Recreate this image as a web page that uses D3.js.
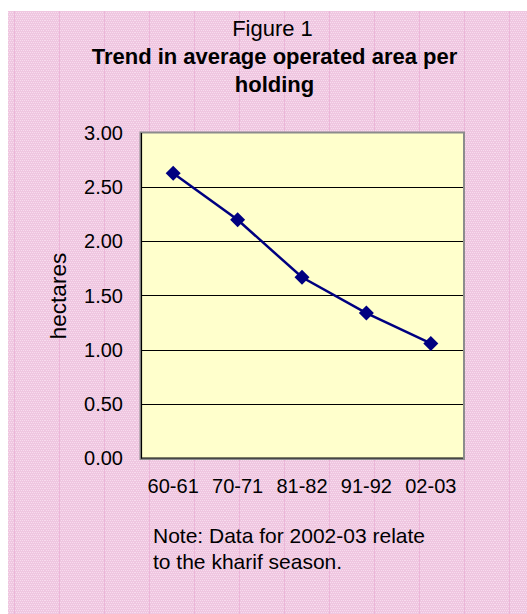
<!DOCTYPE html>
<html>
<head>
<meta charset="utf-8">
<script src="https://cdn.jsdelivr.net/npm/d3@7"></script>
<style>
  html, body { margin: 0; padding: 0; background: #ffffff; }
  svg { display: block; }
  text { font-family: "Liberation Sans", Arial, sans-serif; fill: #000; }
</style>
</head>
<body>
<script>
// ---- data ----
const categories = ["60-61", "70-71", "81-82", "91-92", "02-03"];
const values = [2.63, 2.20, 1.67, 1.34, 1.06];
const yTicks = [0, 0.5, 1.0, 1.5, 2.0, 2.5, 3.0];
const figureLabel = "Figure 1";
const titleLines = ["Trend in average operated area per", "holding"];
const yAxisTitle = "hectares";
const noteLines = ["Note: Data for 2002-03 relate", "to the kharif season."];

const W = 527, H = 614;
const svg = d3.select("body").append("svg").attr("width", W).attr("height", H);

// background pattern (pink textured)
const defs = svg.append("defs");
const pat = defs.append("pattern").attr("id", "pinkTex")
  .attr("patternUnits", "userSpaceOnUse").attr("width", 45).attr("height", 4);
pat.append("rect").attr("width", 45).attr("height", 4).attr("fill", "#efc6e0");
for (let x = 0; x < 45; x += 2) {
  pat.append("rect").attr("x", x).attr("y", 0).attr("width", 1).attr("height", 1).attr("fill", "#f7ddee");
  pat.append("rect").attr("x", x + 1).attr("y", 2).attr("width", 1).attr("height", 1).attr("fill", "#f7ddee");
}
pat.append("rect").attr("x", 14).attr("y", 0).attr("width", 1).attr("height", 4).attr("fill", "#ebb6d8");

svg.append("rect").attr("x", 8).attr("y", 11).attr("width", W - 8).attr("height", H - 11)
  .attr("fill", "url(#pinkTex)");

// plot area
const m = { left: 141, top: 133, right: 463, bottom: 458.5 };
const x = d3.scaleBand().domain(categories).range([m.left, m.right]).paddingInner(0).paddingOuter(0);
const y = d3.scaleLinear().domain([0, 3]).range([m.bottom, m.top]);

svg.append("rect").attr("x", m.left).attr("y", m.top)
  .attr("width", m.right - m.left).attr("height", m.bottom - m.top)
  .attr("fill", "#ffffcc");

// gridlines
svg.append("g").selectAll("line").data(yTicks.filter(t => t > 0 && t < 3)).join("line")
  .attr("x1", m.left).attr("x2", m.right)
  .attr("y1", d => y(d)).attr("y2", d => y(d))
  .attr("stroke", "#000").attr("stroke-width", 1).attr("shape-rendering", "crispEdges");

// border
svg.append("rect").attr("x", m.left - 0.5).attr("y", m.top - 0.5)
  .attr("width", m.right - m.left + 1.5).attr("height", m.bottom - m.top + 1)
  .attr("fill", "none").attr("stroke", "#8c8c8c").attr("stroke-width", 2);
svg.append("line").attr("x1", m.left + 0.5).attr("x2", m.left + 0.5)
  .attr("y1", m.top).attr("y2", m.bottom).attr("stroke", "#000").attr("stroke-width", 1.2);
svg.append("line").attr("x1", m.left).attr("x2", m.right)
  .attr("y1", m.bottom - 0.5).attr("y2", m.bottom - 0.5).attr("stroke", "#000").attr("stroke-width", 1.2);

// y axis
const yAxis = d3.axisLeft(y).tickValues(yTicks).tickFormat(d3.format(".2f")).tickSize(0).tickPadding(18);
const yg = svg.append("g").attr("transform", `translate(${m.left},0)`).call(yAxis);
yg.select(".domain").remove();
yg.selectAll("text").attr("font-size", 20).attr("fill", "#000")
  .attr("font-family", '"Liberation Sans", Arial, sans-serif');

// x axis
const xAxis = d3.axisBottom(x).tickSize(0).tickPadding(20);
const xg = svg.append("g").attr("transform", `translate(0,${m.bottom})`).call(xAxis);
xg.select(".domain").remove();
xg.selectAll("text").attr("font-size", 20).attr("fill", "#000")
  .attr("font-family", '"Liberation Sans", Arial, sans-serif');

// line
const pts = categories.map((c, i) => [x(c) + x.bandwidth() / 2, y(values[i])]);
svg.append("path").datum(pts)
  .attr("d", d3.line())
  .attr("fill", "none").attr("stroke", "#000080").attr("stroke-width", 2.5);

svg.append("g").selectAll("path").data(pts).join("path")
  .attr("transform", d => `translate(${d[0]},${d[1]})`)
  .attr("d", "M0,-7.5L7.5,0L0,7.5L-7.5,0Z")
  .attr("fill", "#000080");

// titles
svg.append("text").attr("x", 272.5).attr("y", 36).attr("text-anchor", "middle")
  .attr("font-size", 22).text(figureLabel);
svg.selectAll("text.title").data(titleLines).join("text").attr("class", "title")
  .attr("x", 274.5).attr("y", (d, i) => 64 + i * 28)
  .attr("text-anchor", "middle").attr("font-size", 22).attr("font-weight", "bold")
  .text(d => d);

// y axis title
svg.append("text").attr("transform", `translate(66,296) rotate(-90)`)
  .attr("text-anchor", "middle").attr("font-size", 22.5).text(yAxisTitle);

// note
svg.selectAll("text.note").data(noteLines).join("text").attr("class", "note")
  .attr("x", 153).attr("y", (d, i) => 543 + i * 26)
  .attr("font-size", 21).text(d => d);
</script>
</body>
</html>
